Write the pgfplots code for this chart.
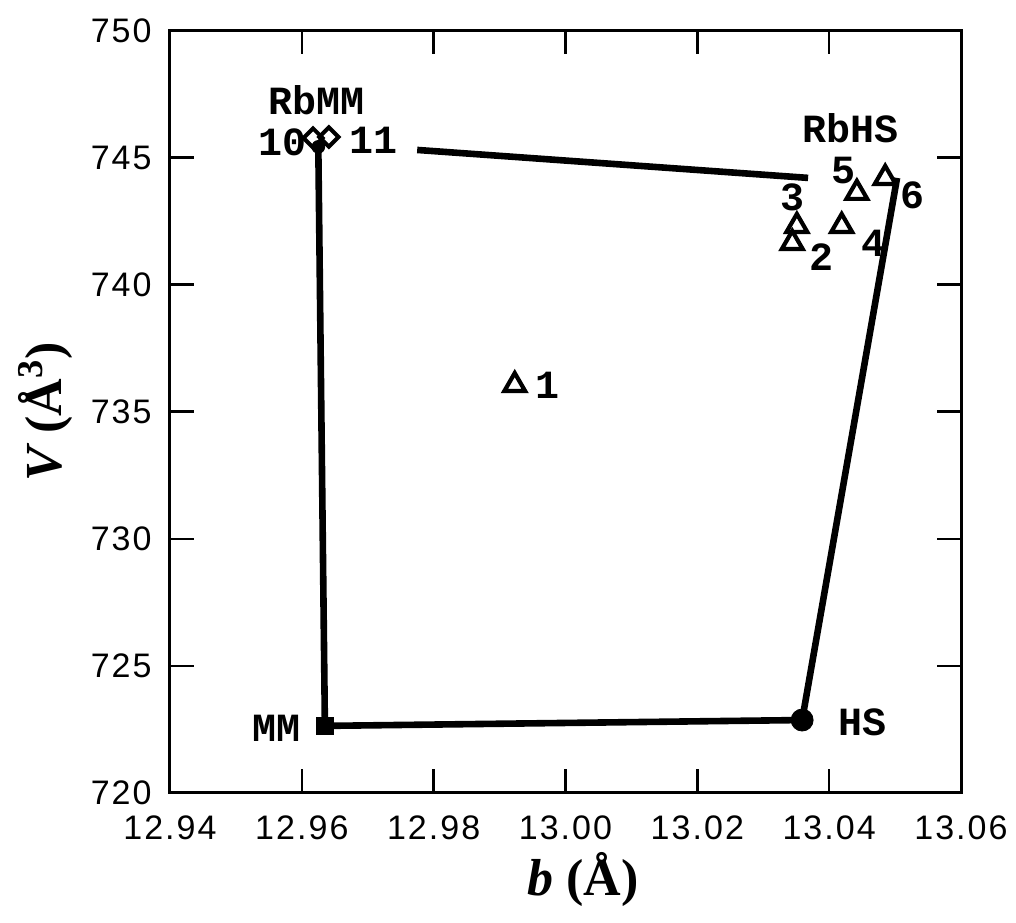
\documentclass[border=0pt]{standalone}
\usepackage{fontspec}
\setmainfont{Liberation Sans}
\newfontfamily\tickfont[LetterSpace=6]{Liberation Sans}
\newfontfamily\serifb{Liberation Serif}
\newfontfamily\monob{Liberation Mono}
\usepackage{pgfplots}
\pgfplotsset{compat=1.18}
\newcommand{\lbl}{\monob\bfseries\fontsize{20}{22}\selectfont}
\begin{document}
\begin{tikzpicture}
\begin{axis}[
  scale only axis, width=395.5pt, height=381.25pt,
  xmin=12.94, xmax=13.06, ymin=720, ymax=750,
  xtick={12.94,12.96,12.98,13.00,13.02,13.04,13.06},
  ytick={720,725,730,735,740,745,750},
  xticklabels={12.94,12.96,12.98,13.00,13.02,13.04,13.06},
  yticklabels={720,725,730,735,740,745,750},
  axis line style={black, line width=1.5pt},
  xtick style={black, line width=1.3pt},
  ytick style={black, line width=1.3pt},
  major tick length=12pt,
  xticklabel style={font=\tickfont\fontsize{17}{20}\selectfont, inner sep=1pt, yshift=-10pt},
  yticklabel style={font=\tickfont\fontsize{17}{20}\selectfont, inner sep=1pt, xshift=-8pt},
  xlabel={\serifb\bfseries\fontsize{26}{30}\selectfont\itshape b \upshape(Å)},
  ylabel={\serifb\bfseries\fontsize{26}{30}\selectfont\itshape V \upshape(Å\textsuperscript{3})},
  xlabel style={at={(axis description cs:0.522,-0.114)}, anchor=center},
  ylabel style={at={(axis description cs:-0.158,0.5)}, anchor=center, rotate=0},
  clip=false,
]
\coordinate (bl) at (rel axis cs:0,0);
\coordinate (tr) at (rel axis cs:1,1);
% frame lines
\addplot[black, line width=3.3pt, line join=round, mark=none] coordinates {
  (12.9625,745.42) (12.9635,722.64) (13.0359,722.87) (13.0503,744.20)};
\addplot[black, line width=3.3pt, mark=none] coordinates {
  (12.9775,745.30) (13.0368,744.20)};
% end points
\addplot[only marks, mark=square*, mark size=4.2pt, black] coordinates {(12.9635,722.64)};
\addplot[only marks, mark=*, mark size=5.5pt, black] coordinates {(13.0359,722.87)};
\addplot[only marks, mark=*, mark size=3.2pt, black] coordinates {(12.9625,745.42)};
% RbMM diamonds
\addplot[only marks, mark=square, mark size=3.4pt, mark options={rotate=45, line width=2pt, fill=white}, black] coordinates {
  (12.9617,745.77) (12.9641,745.81)};
% triangles
\addplot[only marks, mark=triangle, mark size=6pt, mark options={line width=2.1pt}, black] coordinates {
  (12.9923,736.05) (13.0344,741.64) (13.0351,742.31) (13.0419,742.31) (13.0442,743.61) (13.0485,744.20)};
% labels
\node[font=\lbl] at (axis cs:12.9973,736.05) {1};
\node[font=\lbl] at (axis cs:13.0389,741.09) {2};
\node[font=\lbl] at (axis cs:13.0345,743.45) {3};
\node[font=\lbl] at (axis cs:13.0467,741.64) {4};
\node[font=\lbl] at (axis cs:13.0421,744.51) {5};
\node[font=\lbl] at (axis cs:13.0526,743.53) {6};
\node[font=\lbl] at (axis cs:13.0432,746.16) {RbHS};
\node[font=\lbl] at (axis cs:12.9623,747.26) {RbMM};
\node[font=\lbl] at (axis cs:12.9571,745.61) {10};
\node[font=\lbl] at (axis cs:12.9708,745.69) {11};
\node[font=\lbl] at (axis cs:12.9562,722.56) {MM};
\node[font=\lbl] at (axis cs:13.0451,722.79) {HS};
\end{axis}
\pgfresetboundingbox
\path ([shift={(-85pt,-65pt)}]bl) rectangle ([shift={(27.5pt,15.25pt)}]tr);
\end{tikzpicture}
\end{document}
